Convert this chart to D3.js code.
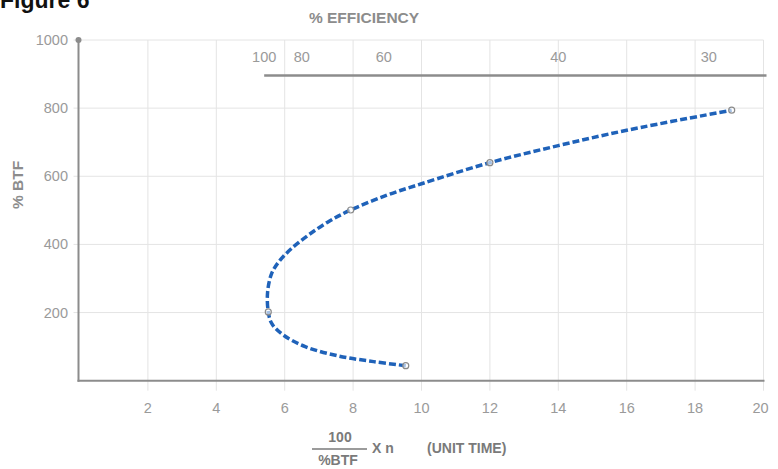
<!DOCTYPE html>
<html><head><meta charset="utf-8">
<script src="https://cdn.jsdelivr.net/npm/d3@7"></script>
<style>
html,body{margin:0;padding:0;background:#fff;}
svg{display:block;font-family:"Liberation Sans",Arial,sans-serif;}
</style></head>
<body>
<svg id="chart" width="778" height="469"></svg>
<script>
// ---- data ----
const xTicks = [2, 4, 6, 8, 10, 12, 14, 16, 18, 20];
const yTicks = [200, 400, 600, 800, 1000];
const effLabels = ["100", "80", "60", "40", "30"];
const effPositions = [5.4, 6.5, 8.9, 14.0, 18.4];   // in x units
// curve (x = 100/%BTF * n, y = %BTF)
const curveX = [9.54, 8.6, 7.6, 6.6, 5.96, 5.62, 5.52, 5.5, 5.62, 5.86, 6.2, 6.7, 7.3, 7.93, 9.0, 10.0, 12.0, 14.0, 16.0, 19.07];
const curveY = [44, 56, 72, 100, 134, 168, 202, 260, 315, 353, 388, 428, 468, 501, 545, 578, 640, 690, 735, 794];
const markerX = [9.54, 5.52, 7.93, 12.0, 19.07];
const markerY = [44, 202, 501, 640, 794];

const svg = d3.select("#chart");
const x = d3.scaleLinear().domain([0, 20]).range([79.5, 763.5]);
const y = d3.scaleLinear().domain([0, 1000]).range([380.7, 40]);
const grey = "#8c8c8c", grid = "#e4e4e4", label = "#9a9a9a";

// title (cut at top)
svg.append("text").attr("x", 0).attr("y", 8).attr("font-size", 23).attr("font-weight", "bold")
  .attr("fill", "#111").text("Figure 6");

// gridlines
svg.append("g").selectAll("line").data(xTicks).join("line")
  .attr("x1", d => x(d)).attr("x2", d => x(d)).attr("y1", y(1000)).attr("y2", y(0) + 10)
  .attr("stroke", grid).attr("stroke-width", 1);
svg.append("g").selectAll("line").data(yTicks).join("line")
  .attr("x1", x(0) - 6).attr("x2", x(20)).attr("y1", d => y(d)).attr("y2", d => y(d))
  .attr("stroke", grid).attr("stroke-width", 1);

// axes lines
svg.append("line").attr("x1", x(0) - 1).attr("x2", x(0) - 1).attr("y1", y(1000)).attr("y2", y(0) + 1)
  .attr("stroke", grey).attr("stroke-width", 2);
svg.append("line").attr("x1", x(0) - 2).attr("x2", x(20) + 1).attr("y1", y(0)).attr("y2", y(0))
  .attr("stroke", grey).attr("stroke-width", 2);
svg.append("circle").attr("cx", x(0) - 1).attr("cy", y(1000)).attr("r", 3).attr("fill", grey);

// tick labels
svg.append("g").selectAll("text").data(xTicks).join("text")
  .attr("x", d => x(d) - (d === 20 ? 3 : 0)).attr("y", 413).attr("text-anchor", "middle")
  .attr("font-size", 14.5).attr("fill", label).text(d => d);
svg.append("g").selectAll("text").data(yTicks).join("text")
  .attr("x", 68).attr("y", d => y(d) + 5).attr("text-anchor", "end")
  .attr("font-size", 14.5).attr("fill", label).text(d => d);

// efficiency axis
svg.append("line").attr("x1", x(effPositions[0])).attr("x2", x(20) + 3).attr("y1", 75.5).attr("y2", 75.5)
  .attr("stroke", grey).attr("stroke-width", 2.5);
svg.append("g").selectAll("text").data(effLabels).join("text")
  .attr("x", (d, i) => x(effPositions[i])).attr("y", 62).attr("text-anchor", "middle")
  .attr("font-size", 14.5).attr("fill", label).text(d => d);
svg.append("text").attr("x", 364).attr("y", 23).attr("text-anchor", "middle")
  .attr("font-size", 15.5).attr("font-weight", "bold").attr("fill", grey).text("% EFFICIENCY");

// y title
svg.append("text").attr("transform", "translate(23,185) rotate(-90)").attr("text-anchor", "middle")
  .attr("font-size", 15.5).attr("font-weight", "bold").attr("fill", grey).text("% BTF");

// x title (fraction)
const xt = svg.append("g").attr("fill", "#7a7a7a").attr("font-weight", "bold").attr("font-size", 14);
xt.append("text").attr("x", 340).attr("y", 442).attr("text-anchor", "middle").text("100");
xt.append("line").attr("x1", 312).attr("x2", 367).attr("y1", 449).attr("y2", 449).attr("stroke", "#7a7a7a").attr("stroke-width", 1.5);
xt.append("text").attr("x", 338).attr("y", 465).attr("text-anchor", "middle").text("%BTF");
xt.append("text").attr("x", 372).attr("y", 453).text("X n");
xt.append("text").attr("x", 427).attr("y", 453).text("(UNIT TIME)");

// curve
const pts = curveX.map((d, i) => [d, curveY[i]]);
const line = d3.line().x(d => x(d[0])).y(d => y(d[1])).curve(d3.curveCatmullRom.alpha(0.5));
svg.append("path").attr("d", line(pts)).attr("fill", "none")
  .attr("stroke", "#1f62b9").attr("stroke-width", 3.5).attr("stroke-dasharray", "7,3");

// markers
svg.append("g").selectAll("circle").data(markerX).join("circle")
  .attr("cx", d => x(d)).attr("cy", (d, i) => y(markerY[i])).attr("r", 3)
  .attr("fill", "rgba(255,255,255,0.6)").attr("stroke", "#8a8a8a").attr("stroke-width", 1.2);
</script>
</body></html>
